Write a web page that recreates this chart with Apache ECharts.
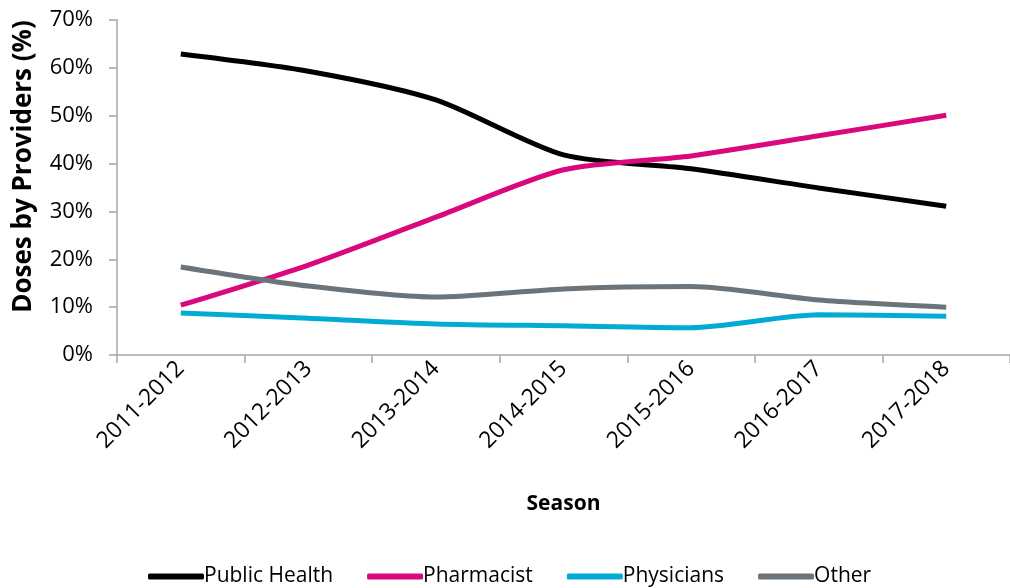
<!DOCTYPE html>
<html><head><meta charset="utf-8">
<script src="https://cdn.jsdelivr.net/npm/echarts@6/dist/echarts.min.js"></script>
<style>html,body{margin:0;padding:0;background:#fff}#c{width:1010px;height:588px}</style>
</head><body><div id="c"></div>
<script>
const seasons = ['2011-2012','2012-2013','2013-2014','2014-2015','2015-2016','2016-2017','2017-2018'];
const publicHealth = [62.9, 59.3, 53.3, 41.8, 38.9, 34.9, 31.1];
const pharmacist = [10.4, 18.8, 28.8, 38.7, 41.6, 45.8, 50.1];
const physicians = [8.8, 7.7, 6.5, 6.1, 5.7, 8.4, 8.1];
const other = [18.4, 14.4, 12.1, 13.8, 14.3, 11.5, 10.0];
const yTicks = [0, 10, 20, 30, 40, 50, 60, 70];

const font = "'Open Sans', sans-serif";
const chart = echarts.init(document.getElementById('c'));
function s(name, data, color) {
  return {name, type:'line', data, smooth:0.25, symbol:'none',
    lineStyle:{width:5, color}, itemStyle:{color}};
}
chart.setOption({
  animation:false,
  textStyle:{fontFamily:font},
  grid:{left:117, top:20, width:896, height:335, containLabel:false},
  legend:{top:561, left:143, itemWidth:56, itemHeight:6, itemGap:34,
    icon:'roundRect',
    textStyle:{fontSize:21, color:'#000', fontFamily:font, padding:[0,0,0,-5]},
    data:['Public Health','Pharmacist','Physicians','Other']},
  xAxis:{type:'category', data:seasons, boundaryGap:true,
    name:'Season', nameLocation:'middle', nameGap:139,
    nameTextStyle:{fontSize:21, fontWeight:'bold', color:'#000', fontFamily:font},
    axisLine:{lineStyle:{color:'#a6a6a6', width:1.5}},
    axisTick:{show:true, length:8, alignWithLabel:false, lineStyle:{color:'#a6a6a6', width:1.5}},
    axisLabel:{rotate:45, fontSize:23, color:'#000', margin:10, interval:0, fontFamily:font}},
  yAxis:{type:'value', min:yTicks[0], max:yTicks[yTicks.length-1], interval:10,
    name:'Doses by Providers (%)', nameLocation:'middle', nameGap:80, nameRotate:90,
    nameTextStyle:{fontSize:26, fontWeight:'bold', color:'#000', fontFamily:font, padding:[0,0,0,42]},
    axisLine:{show:true, lineStyle:{color:'#a6a6a6', width:1.5}},
    axisTick:{show:true, length:8, lineStyle:{color:'#a6a6a6', width:1.5}},
    splitLine:{show:false},
    axisLabel:{fontSize:22, color:'#000', margin:24, fontFamily:font, formatter:v=>v+'%'}},
  series:[
    s('Public Health', publicHealth, '#000000'),
    s('Pharmacist', pharmacist, '#d9087c'),
    s('Physicians', physicians, '#00acd4'),
    s('Other', other, '#6b737b')
  ]
});
</script></body></html>
